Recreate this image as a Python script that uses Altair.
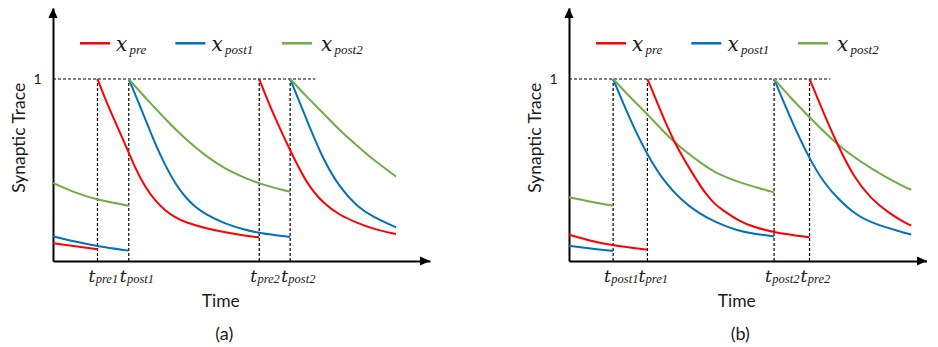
import altair as alt
import pandas as pd

# ---------------- data (time in arbitrary units, trace value 0..1) ----------------
SERIES = ["pre", "post1", "post2"]
COLORS = ["#FF0000", "#0070C0", "#70AD47"]

# panel (a): pre spike precedes post spike
A_SPIKES = [("pre1", 11.8), ("post1", 20.1), ("pre2", 54.7), ("post2", 62.9)]
A_ONE_END = 69.6
A_RED = [
    ([0, 5.9, 11.8], [0.097, 0.081, 0.064]),
    ([11.8, 14.5, 19.15, 21.8, 24.45, 27.1, 29.8, 32.4, 35.1, 40.4, 45.7, 51.0, 54.7],
     [1.0, 0.855, 0.643, 0.51, 0.405, 0.331, 0.276, 0.24, 0.212, 0.18, 0.158, 0.139, 0.13]),
    ([54.7, 57.4, 62.9, 67.4, 71.8, 76.2, 80.6, 85.0, 91.0],
     [1.0, 0.855, 0.606, 0.42, 0.315, 0.25, 0.21, 0.175, 0.148]),
]
A_BLUE = [
    ([0, 5.9, 11.8, 20.1], [0.136, 0.106, 0.081, 0.057]),
    ([20.1, 24.5, 27.1, 29.8, 32.5, 35.1, 37.8, 40.4, 45.7, 51.1, 54.6, 62.9],
     [1.0, 0.78, 0.643, 0.524, 0.423, 0.35, 0.295, 0.258, 0.203, 0.17, 0.154, 0.132]),
    ([62.9, 67.4, 71.8, 76.2, 80.6, 85.0, 91.0],
     [1.0, 0.77, 0.55, 0.40, 0.30, 0.24, 0.185]),
]
A_GREEN = [
    ([0, 5.9, 11.8, 20.1], [0.429, 0.375, 0.335, 0.304]),
    ([20.1, 25.0, 29.8, 35.1, 40.4, 45.7, 51.1, 54.6, 62.9],
     [1.0, 0.885, 0.78, 0.67, 0.579, 0.505, 0.455, 0.425, 0.38]),
    ([62.9, 67.4, 71.8, 76.2, 80.6, 85.0, 91.0],
     [1.0, 0.90, 0.81, 0.715, 0.635, 0.555, 0.464]),
]

# panel (b): post spike precedes pre spike
B_SPIKES = [("post1", 11.7), ("pre1", 20.8), ("post2", 54.4), ("pre2", 63.8)]
B_ONE_END = 69.3
B_RED = [
    ([0, 5.8, 11.7, 20.8], [0.145, 0.11, 0.084, 0.062]),
    ([20.8, 24.4, 28.0, 34.2, 36.0, 38.6, 40.4, 44.8, 49.2, 54.4, 63.8],
     [1.0, 0.82, 0.643, 0.432, 0.377, 0.313, 0.286, 0.222, 0.185, 0.157, 0.13]),
    ([63.8, 67.4, 71.4, 75.8, 80.2, 84.6, 89.0, 90.8],
     [1.0, 0.82, 0.63, 0.451, 0.341, 0.267, 0.212, 0.194]),
]
B_BLUE = [
    ([0, 5.8, 11.7], [0.084, 0.068, 0.055]),
    ([11.7, 16.1, 20.8, 25.4, 29.8, 34.2, 38.6, 44.8, 49.6, 54.4],
     [1.0, 0.78, 0.579, 0.432, 0.335, 0.265, 0.215, 0.165, 0.148, 0.135]),
    ([54.4, 58.8, 63.8, 67.6, 71.4, 75.8, 80.2, 89.0, 90.8],
     [1.0, 0.78, 0.56, 0.43, 0.341, 0.258, 0.209, 0.154, 0.145]),
]
B_GREEN = [
    ([0, 5.8, 11.7], [0.35, 0.325, 0.304]),
    ([11.7, 16.2, 20.8, 28.0, 36.0, 38.6, 44.8, 54.4],
     [1.0, 0.9, 0.808, 0.643, 0.524, 0.487, 0.432, 0.377]),
    ([54.4, 59.1, 63.8, 71.4, 80.2, 89.0, 90.8],
     [1.0, 0.89, 0.79, 0.63, 0.505, 0.405, 0.392]),
]

# ---------------- layout constants (page pixels) ----------------
UNIT_PX = 3.77          # pixels per time unit
PLOT_H = 253
ONE_PX = 182            # pixel height of value 1
YMAX = PLOT_H / ONE_PX
TOP = 9                 # page y of plot top

LEG_LINE_X = [27, 122.3, 229]
LEG_TEXT_X = [63, 158.6, 268]
SERIF = "DejaVu Serif"
SUBFONT = "Liberation Serif"
SANS = "Lato"
INK = "#1a1a1a"


def build_df(groups):
    rows = []
    for name, segs in groups:
        for k, (ts, vs) in enumerate(segs):
            for t, v in zip(ts, vs):
                rows.append({"series": name, "seg": f"{name}{k}", "t": t, "v": v})
    return pd.DataFrame(rows)


def panel(tag, spikes, one_end, red, blue, green, width):
    xmax = width / UNIT_PX
    xs = alt.Scale(domain=[0, xmax], nice=False, zero=False)
    ys = alt.Scale(domain=[0, YMAX], nice=False, zero=False)
    XA = alt.Axis(labels=False, ticks=False, tickSize=0, grid=False,
                  domainColor="black", domainWidth=2,
                  title="Time", titleFont=SANS, titleFontSize=17.5,
                  titleFontWeight="normal", titleColor=INK,
                  titleX=167.3, titleY=45.3, titleBaseline="alphabetic",
                  titleAlign="center")
    YA = alt.Axis(values=[1], format="d", labelFont=SANS, labelFontSize=14,
                  labelColor=INK, labelPadding=12, ticks=False, tickSize=0,
                  grid=False, domainColor="black", domainWidth=2,
                  title="Synaptic Trace", titleFont=SANS, titleFontSize=17.5,
                  titleFontWeight="normal", titleColor=INK, titleAngle=270,
                  titleAlign="center", titleBaseline="alphabetic",
                  titleX=-28.5, titleY=138.3 - TOP)
    X = lambda f="t": alt.X(f"{f}:Q", scale=xs, axis=XA)
    Y = lambda f="v": alt.Y(f"{f}:Q", scale=ys, axis=YA)

    spk = pd.DataFrame({"name": [s[0] for s in spikes],
                        "t": [s[1] for s in spikes],
                        "v": [0.0] * len(spikes), "v2": [1.0] * len(spikes)})
    vdash = alt.Chart(spk).mark_rule(color="black", strokeWidth=1.2,
                                     strokeDash=[3, 2]).encode(
        x=X(), y=Y(), y2="v2:Q")
    hdf = pd.DataFrame({"t": [0.0], "t2": [one_end], "v": [1.0]})
    hdash = alt.Chart(hdf).mark_rule(color="black", strokeWidth=1.2,
                                     strokeDash=[3, 2]).encode(
        x=X(), x2="t2:Q", y=Y())

    df = build_df([("pre", red), ("post1", blue), ("post2", green)])
    lines = []
    for name in ["post1", "post2", "pre"]:
        col = COLORS[SERIES.index(name)]
        lines.append(
            alt.Chart(df[df.series == name]).mark_line(
                color=col, strokeWidth=2, interpolate="basis").encode(
                x=X(), y=Y(), detail="seg:N", order="t:Q"))

    up = alt.Chart(pd.DataFrame({"t": [0.0], "v": [YMAX]})).mark_point(
        shape="M0,0 L-0.46,1 L0.46,1 Z", size=400, filled=True,
        color="black", opacity=1, strokeWidth=0).encode(x=X(), y=Y())
    right = alt.Chart(pd.DataFrame({"t": [xmax], "v": [0.0]})).mark_point(
        shape="M0,0 L-1,-0.46 L-1,0.46 Z", size=400, filled=True,
        color="black", opacity=1, strokeWidth=0).encode(x=X(), y=Y())

    # spike time labels t_xxx
    tmain = alt.Chart(spk).mark_text(
        text="t", font=SERIF, fontStyle="italic", fontSize=17, color=INK,
        align="left", baseline="alphabetic", dx=-9).encode(
        x=X(), y=alt.value(282.7 - TOP))
    tsub = alt.Chart(spk).mark_text(
        font=SUBFONT, fontStyle="italic", fontSize=12.5, color=INK,
        align="left", baseline="alphabetic", dx=-1.8).encode(
        x=X(), y=alt.value(284.2 - TOP), text="name:N")

    # legend
    leg = []
    for i, name in enumerate(SERIES):
        one = pd.DataFrame({"k": [0]})
        leg.append(alt.Chart(one).mark_rule(color=COLORS[i], strokeWidth=2.5).encode(
            x=alt.value(LEG_LINE_X[i]), x2=alt.value(LEG_LINE_X[i] + 30),
            y=alt.value(44.3 - TOP)))
        leg.append(alt.Chart(one).mark_text(
            text="x", font=SERIF, fontStyle="italic", fontSize=20, color=INK,
            align="left", baseline="alphabetic").encode(
            x=alt.value(LEG_TEXT_X[i]), y=alt.value(51.7 - TOP)))
        leg.append(alt.Chart(one).mark_text(
            text=name, font=SUBFONT, fontStyle="italic", fontSize=13, color=INK,
            align="left", baseline="alphabetic").encode(
            x=alt.value(LEG_TEXT_X[i] + 13.5), y=alt.value(54.7 - TOP)))

    cap = alt.Chart(pd.DataFrame({"k": [0]})).mark_text(
        text=f"({tag})", font=SANS, fontSize=18, color=INK,
        align="center", baseline="alphabetic").encode(
        x=alt.value(171.3), y=alt.value(340.7 - TOP))

    return alt.layer(vdash, hdash, *lines, up, right, tmain, tsub, *leg, cap).properties(
        width=width, height=PLOT_H)


pa = panel("a", A_SPIKES, A_ONE_END, A_RED, A_BLUE, A_GREEN, 377)
pb = panel("b", B_SPIKES, B_ONE_END, B_RED, B_BLUE, B_GREEN, 358)

chart = alt.hconcat(pa, pb, spacing=96).properties(
    padding={"left": 2, "top": 0, "right": 0, "bottom": 0}
).configure_view(stroke=None)

chart.save("out.html", embed_options={"renderer": "svg", "actions": False})
